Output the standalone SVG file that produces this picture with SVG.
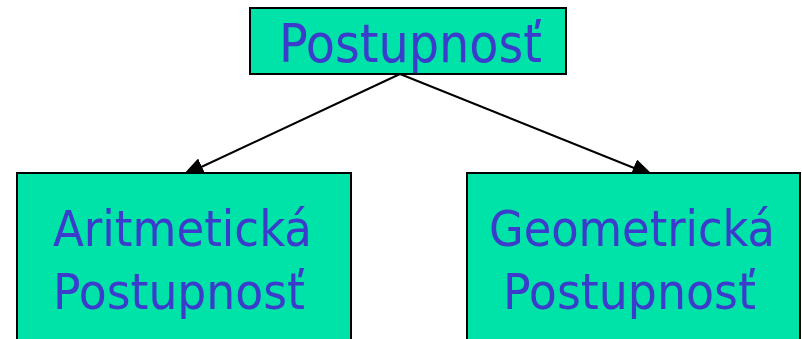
<svg xmlns="http://www.w3.org/2000/svg" width="802" height="339" viewBox="0 0 802 339">
  <style>
    .box { fill: #00E3A8; stroke: #000; stroke-width: 2; }
    .lbl { font-family: "DejaVu Sans Condensed", "DejaVu Sans", sans-serif; font-stretch: condensed; fill: #3B3BCC; }
    .top { font-size: 54px; }
    .sub { font-size: 50px; }
    .edge { stroke: #000; stroke-width: 2; fill: none; marker-end: url(#tip); }
  </style>
  <defs>
    <!-- filled arrowhead, 22 long by 18 wide, tip at the line end -->
    <marker id="tip" viewBox="0 0 22 18" refX="22" refY="9" markerWidth="22" markerHeight="18" markerUnits="userSpaceOnUse" orient="auto">
      <path d="M0,0 L22,9 L0,18 z" fill="#000"/>
    </marker>
  </defs>
  <rect width="802" height="339" fill="#fff"/>

  <g id="connectors">
    <line class="edge" x1="400" y1="74" x2="182" y2="176"/>
    <line class="edge" x1="400" y1="74" x2="654" y2="176"/>
  </g>

  <g id="root">
    <rect class="box" x="250" y="8" width="316" height="66"/>
    <text class="lbl top" x="279" y="62" textLength="263" lengthAdjust="spacingAndGlyphs">Postupnosť</text>
  </g>

  <g id="arithmetic">
    <rect class="box" x="17" y="173" width="334" height="180"/>
    <text class="lbl sub" x="53" y="246" textLength="259" lengthAdjust="spacingAndGlyphs">Aritmetická</text>
    <text class="lbl sub" x="53" y="309" textLength="252" lengthAdjust="spacingAndGlyphs">Postupnosť</text>
  </g>

  <g id="geometric">
    <rect class="box" x="467" y="173" width="333" height="180"/>
    <text class="lbl sub" x="489" y="246" textLength="286" lengthAdjust="spacingAndGlyphs">Geometrická</text>
    <text class="lbl sub" x="503" y="309" textLength="253" lengthAdjust="spacingAndGlyphs">Postupnosť</text>
  </g>
</svg>
